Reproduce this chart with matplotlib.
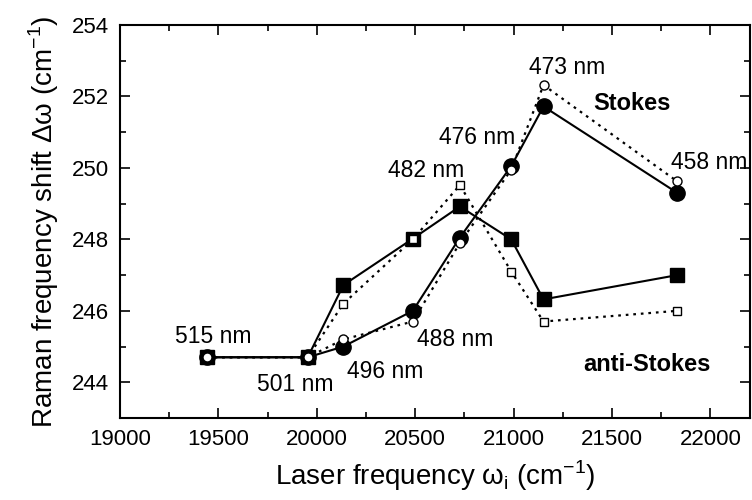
import numpy as np
import matplotlib.pyplot as plt
from matplotlib.ticker import MultipleLocator

plt.rcParams['font.family'] = ['Liberation Sans', 'DejaVu Sans']
plt.rcParams['mathtext.fontset'] = 'custom'
plt.rcParams['mathtext.rm'] = 'Liberation Sans'

# laser frequency (cm^-1) for each line
freq = [19442, 19954, 20135, 20488, 20727, 20988, 21152, 21832]
wavelength = ['515 nm', '501 nm', '496 nm', '488 nm', '482 nm', '476 nm', '473 nm', '458 nm']

# Stokes shift: filled = solid, open = dotted
stokes_a = [244.7, 244.7, 245.0, 246.0, 248.05, 250.05, 251.72, 249.3]
stokes_b = [244.7, 244.7, 245.2, 245.7, 247.9, 249.95, 252.32, 249.62]

# anti-Stokes shift
anti_a = [244.7, 244.7, 246.72, 248.02, 248.92, 248.0, 246.32, 247.0]
anti_b = [244.7, 244.7, 246.2, 248.0, 249.52, 247.1, 245.7, 246.0]

# label positions (data coords)
label_x = [19472, 19888, 20345, 20701, 20558, 20817, 21274, 21995]
label_y = [245.27, 243.94, 244.31, 245.2, 249.94, 250.84, 252.81, 250.15]

fig = plt.figure(figsize=(7.52, 5), dpi=100)
ax = fig.add_axes([0.1596, 0.164, 0.8374, 0.786])

ax.plot(freq, anti_a, color='black', lw=1.5, ls='-', marker='s', ms=10,
        mfc='black', mec='black', zorder=3)
ax.plot(freq, stokes_a, color='black', lw=1.5, ls='-', marker='o', ms=11,
        mfc='black', mec='black', zorder=3)
ax.plot(freq, anti_b, color='black', lw=1.6, ls=(0, (1.2, 2.2)), marker='s', ms=6,
        mfc='white', mec='black', mew=1.0, zorder=4)
ax.plot(freq, stokes_b, color='black', lw=1.6, ls=(0, (1.2, 2.2)), marker='o', ms=6.5,
        mfc='white', mec='black', mew=1.0, zorder=4)

for lx, ly, s in zip(label_x, label_y, wavelength):
    ax.text(lx, ly, s, fontsize=16.5, ha='center', va='center')

ax.text(21599, 251.8, 'Stokes', fontsize=17, fontweight='bold', ha='center', va='center')
ax.text(21680, 244.5, 'anti-Stokes', fontsize=17, fontweight='bold', ha='center', va='center')

ax.set_xlim(19000, 22200)
ax.set_ylim(243, 254)
ax.xaxis.set_major_locator(MultipleLocator(500))
ax.xaxis.set_minor_locator(MultipleLocator(250))
ax.yaxis.set_major_locator(MultipleLocator(2))
ax.yaxis.set_minor_locator(MultipleLocator(1))
ax.tick_params(which='both', direction='in', top=True, right=True, width=1.2)
ax.tick_params(which='major', length=7, labelsize=16, pad=8)
ax.tick_params(which='minor', length=4)
for sp in ax.spines.values():
    sp.set_linewidth(1.5)

ax.set_xlabel(r'Laser frequency ω$_\mathregular{i}$ (cm$^\mathregular{-1}$)', fontsize=20, labelpad=6)
ax.set_ylabel(r'Raman frequency shift Δω (cm$^\mathregular{-1}$)', fontsize=20, labelpad=8)

fig.savefig('out.png', dpi=100)
